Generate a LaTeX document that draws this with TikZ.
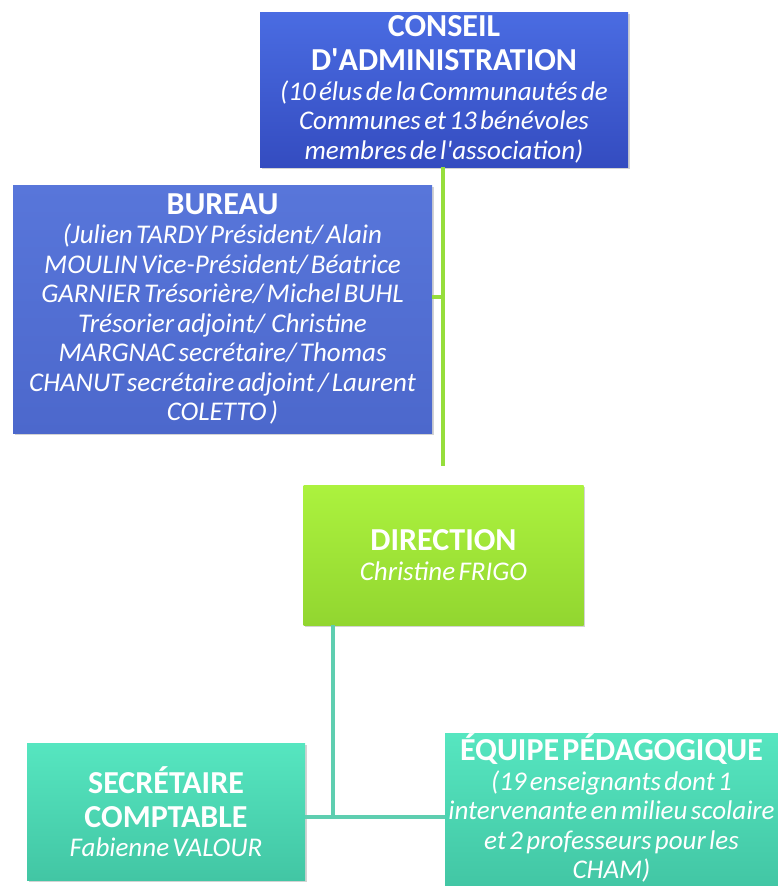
\documentclass[tikz,border=0pt]{standalone}
\usepackage{fontspec}
\setmainfont{Carlito}
\usepackage{tikz}
\usetikzlibrary{shadows}

\begin{document}
\begin{tikzpicture}[
        line join=round, x=1pt, y=-1pt,
        orgbox/.style={rectangle, inner sep=0pt, align=center, text=white,
            drop shadow={shadow xshift=1.5pt, shadow yshift=-2pt, opacity=0.35}},
        bluebox/.style={orgbox, top color=blueTop, bottom color=blueBot},
        bureaubox/.style={orgbox, top color=bureauTop, bottom color=bureauBot},
        greenbox/.style={orgbox, top color=greenTop, bottom color=greenBot},
        tealbox/.style={orgbox, top color=tealTop, bottom color=tealBot},
        greenlink/.style={draw=linkGreen, line width=4.5pt},
        teallink/.style={draw=linkTeal, line width=4.5pt}
      ]
      % ---- colours ----
      \definecolor{blueTop}{RGB}{74,108,226}
      \definecolor{blueBot}{RGB}{52,76,192}
      \definecolor{bureauTop}{RGB}{88,118,218}
      \definecolor{bureauBot}{RGB}{76,104,204}
      \definecolor{greenTop}{RGB}{172,242,62}
      \definecolor{greenBot}{RGB}{146,214,48}
      \definecolor{tealTop}{RGB}{86,230,192}
      \definecolor{tealBot}{RGB}{66,198,164}
      \definecolor{linkGreen}{RGB}{150,222,60}
      \definecolor{linkTeal}{RGB}{94,206,176}

      % ---- helpers ----
      \def\ttl{\fontsize{32}{34}\selectfont\bfseries\upshape}  % box titles
      \def\txt{\fontsize{27}{29.5}\selectfont\mdseries\itshape}  % box contents
      \def\apo{\textquotesingle}

      \useasboundingbox (0,0) rectangle (778,886);

      %==================== TOP: board and bureau ====================
      \node[bluebox, text width=368pt, minimum height=155pt] (conseil) at (444,89.5)
        {\ttl CONSEIL\\D\apo ADMINISTRATION\par
         \txt (10 élus de la Communautés de\\Communes et 13 bénévoles\\membres de l\apo association)\par};

      \node[bureaubox, text width=419pt, minimum height=248pt] (bureau) at (222.5,309)
        {\ttl BUREAU\par
         \txt (Julien TARDY Président/ Alain\\MOULIN Vice-Président/ Béatrice\\GARNIER Trésorière/ Michel BUHL\\
          Trésorier adjoint/\ \ Christine\\MARGNAC secrétaire/ Thomas\\CHANUT secrétaire adjoint / Laurent\\COLETTO )\par};

      %==================== MIDDLE: direction ========================
      \node[greenbox, text width=280pt, minimum height=140pt] (direction) at (443.5,555)
        {\ttl DIRECTION\par\txt Christine FRIGO\par};

      %==================== BOTTOM: staff ============================
      \node[tealbox, text width=278pt, minimum height=137pt] (secretaire) at (166,811.5)
        {\ttl SECRÉTAIRE\\COMPTABLE\par\txt Fabienne VALOUR\par};

      \node[tealbox, text width=333pt, minimum height=151pt] (equipe) at (611.5,810.5)
        {\ttl ÉQUIPE PÉDAGOGIQUE\par
         \txt (19 enseignants dont 1\\intervenante en milieu scolaire\\et 2 professeurs pour les\\CHAM)\par
         \vspace*{5pt}};

      % links
      \coordinate (boardEnd) at (443,466);
      \coordinate (staffJoin) at (333,817);
      \draw[greenlink] (conseil.south -| boardEnd) -- (boardEnd);
      \draw[greenlink] (bureau.east |- 0,297) -- (boardEnd |- 0,297);
      \draw[teallink] (direction.south -| staffJoin) -- (staffJoin);
      \draw[teallink] (secretaire.east |- staffJoin) -- (equipe.west |- staffJoin);

    \end{tikzpicture}
\end{document}
